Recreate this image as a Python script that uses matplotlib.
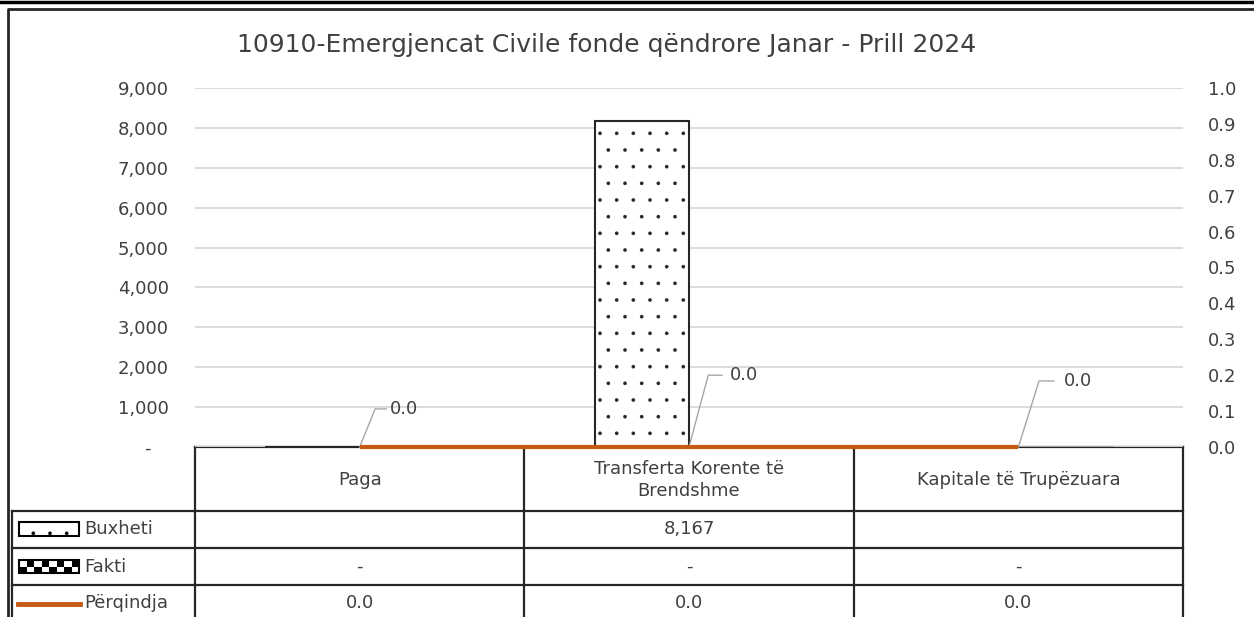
import matplotlib.pyplot as plt
import matplotlib.transforms as mtransforms
from matplotlib.patches import Rectangle
import numpy as np

plt.rcParams['font.family'] = ['DejaVu Sans']
plt.rcParams['hatch.linewidth'] = 0.2

# chart data
title = '10910-Emergjencat Civile fonde qëndrore Janar - Prill 2024'
categories = ['Paga', 'Transferta Korente të\nBrendshme', 'Kapitale të Trupëzuara']
buxheti = [None, 8167, None]
fakti = [0, 0, 0]
perqindja = [0.0, 0.0, 0.0]
series_names = ['Buxheti', 'Fakti', 'Përqindja']

left_ticks = [0, 1000, 2000, 3000, 4000, 5000, 6000, 7000, 8000, 9000]
left_ticklabels = ['-   ', '1,000', '2,000', '3,000', '4,000', '5,000',
                   '6,000', '7,000', '8,000', '9,000']
right_ticks = [0.0, 0.1, 0.2, 0.3, 0.4, 0.5, 0.6, 0.7, 0.8, 0.9, 1.0]

# where the "0.0" labels sit (offset from the point, right axis units)
label_dx = [0.134, 0.167, 0.18]
label_y = [0.106, 0.2, 0.184]

orange = '#C55A11'
txt = '#404040'
W, H = 1254, 617

fig = plt.figure(figsize=(W / 100, H / 100), dpi=100)
fig.patch.set_facecolor('white')

# overlay in pixel units for the frame and data table
ov = fig.add_axes([0, 0, 1, 1], zorder=0)
ov.set_xlim(0, W)
ov.set_ylim(H, 0)
ov.axis('off')

ax = fig.add_axes([195 / W, 1 - 447 / H, 988 / W, 359 / H], zorder=1)
ax.patch.set_visible(False)
x = np.arange(len(categories))
w = 0.286

bux_vals = [v if v is not None else 0 for v in buxheti]
ax.bar(x - w / 2, bux_vals, w, color='white', edgecolor='#262626',
       hatch='.', linewidth=1.5, zorder=2)
ax.bar(x + w / 2, fakti, w, color='white', edgecolor='black',
       hatch='xx', linewidth=1, zorder=2)

ax.set_xlim(-0.5, 2.5)
ax.set_ylim(0, 9000)
ax.set_yticks(left_ticks)
ax.set_yticklabels(left_ticklabels)
ax.set_xticks([])
ax.tick_params(axis='y', length=0, pad=19, labelsize=13, labelcolor=txt)
ax.yaxis.grid(True, color='#d9d9d9', linewidth=1.3)
ax.set_axisbelow(True)
for s in ax.spines.values():
    s.set_visible(False)

ax2 = ax.twinx()
ax2.set_zorder(2)
ax2.patch.set_visible(False)
ax2.set_ylim(0, 1.0)
ax2.set_yticks(right_ticks)
ax2.set_yticklabels([f'{t:.1f}' for t in right_ticks])
ax2.tick_params(axis='y', length=0, pad=18, labelsize=13, labelcolor=txt)
for s in ax2.spines.values():
    s.set_visible(False)

ax2.plot(x, perqindja, color=orange, linewidth=3, solid_capstyle='butt',
         clip_on=False, zorder=5)

# data labels with leader lines
for i, v in enumerate(perqindja):
    ly = v + label_y[i]
    lx = x[i] + label_dx[i]
    ax2.plot([x[i], x[i] + label_dx[i] * 0.35, x[i] + label_dx[i] * 0.6],
             [v, ly, ly], color='#a6a6a6', linewidth=1, clip_on=False, zorder=4)
    ax2.text(lx, ly, f'{v:.1f}', ha='center', va='center', fontsize=13,
             color=txt)

# title
ov.text(607, 45, title, ha='center', va='center', fontsize=18, color=txt)

# outer frame and the line above it
ov.plot([0, W], [2, 2], color='black', linewidth=2.5)
ov.plot([8, 8, W], [H, 9, 9], color='#262626', linewidth=2)

# data table
tr = mtransforms.blended_transform_factory(ax.transData, ov.transData)
col_edges = np.arange(len(categories) + 1) - 0.5
rows_y = [447, 511, 548, 585, H]
lc = '#262626'
for ce in col_edges:
    ov.plot([ce, ce], [447, H], color=lc, linewidth=1.6, transform=tr,
            clip_on=False)
ov.plot([12, 12], [511, H], color=lc, linewidth=1.6)
ov.plot([col_edges[0], col_edges[-1]], [447, 447], color=lc, linewidth=1.6,
        transform=tr, clip_on=False)
for ry in rows_y[1:4]:
    ov.plot([12, 195], [ry, ry], color=lc, linewidth=1.6)
    ov.plot([col_edges[0], col_edges[-1]], [ry, ry], color=lc, linewidth=1.6,
            transform=tr, clip_on=False)

for i, c in enumerate(categories):
    ov.text(x[i], 480, c, ha='center', va='center', fontsize=13,
            color=txt, transform=tr, linespacing=1.35)


def fmt_num(v):
    if v is None:
        return ''
    if v == 0:
        return '-'
    return f'{v:,.0f}'


table_rows = [[fmt_num(v) for v in buxheti],
              [fmt_num(v) for v in fakti],
              [f'{v:.1f}' for v in perqindja]]
for r, row in enumerate(table_rows):
    cy = (rows_y[r + 1] + rows_y[r + 2]) / 2 + (2 if r == 2 else 0)
    for i, s in enumerate(row):
        ov.text(x[i], cy, s, ha='center', va='center', fontsize=13,
                color=txt, transform=tr)
    ov.text(84, cy, series_names[r], ha='left', va='center', fontsize=13,
            color=txt)

# legend keys in the table
ov.add_patch(Rectangle((19, 522), 60, 14, facecolor='white', edgecolor='black',
                       hatch='.', linewidth=1.5))
# checker pattern key for Fakti
kx, ky, kw, kh = 19, 560, 60, 13
ncol = 8
for r in range(2):
    for c in range(ncol):
        if (r + c) % 2 == 1:
            ov.add_patch(Rectangle((kx + c * kw / ncol, ky + r * kh / 2),
                                   kw / ncol, kh / 2, facecolor='black',
                                   edgecolor='none'))
ov.add_patch(Rectangle((kx, ky), kw, kh, facecolor='none', edgecolor='black',
                       linewidth=1.5))
ov.plot([18, 80], [604, 604], color=orange, linewidth=3.5)

fig.savefig('out.png', dpi=100)
